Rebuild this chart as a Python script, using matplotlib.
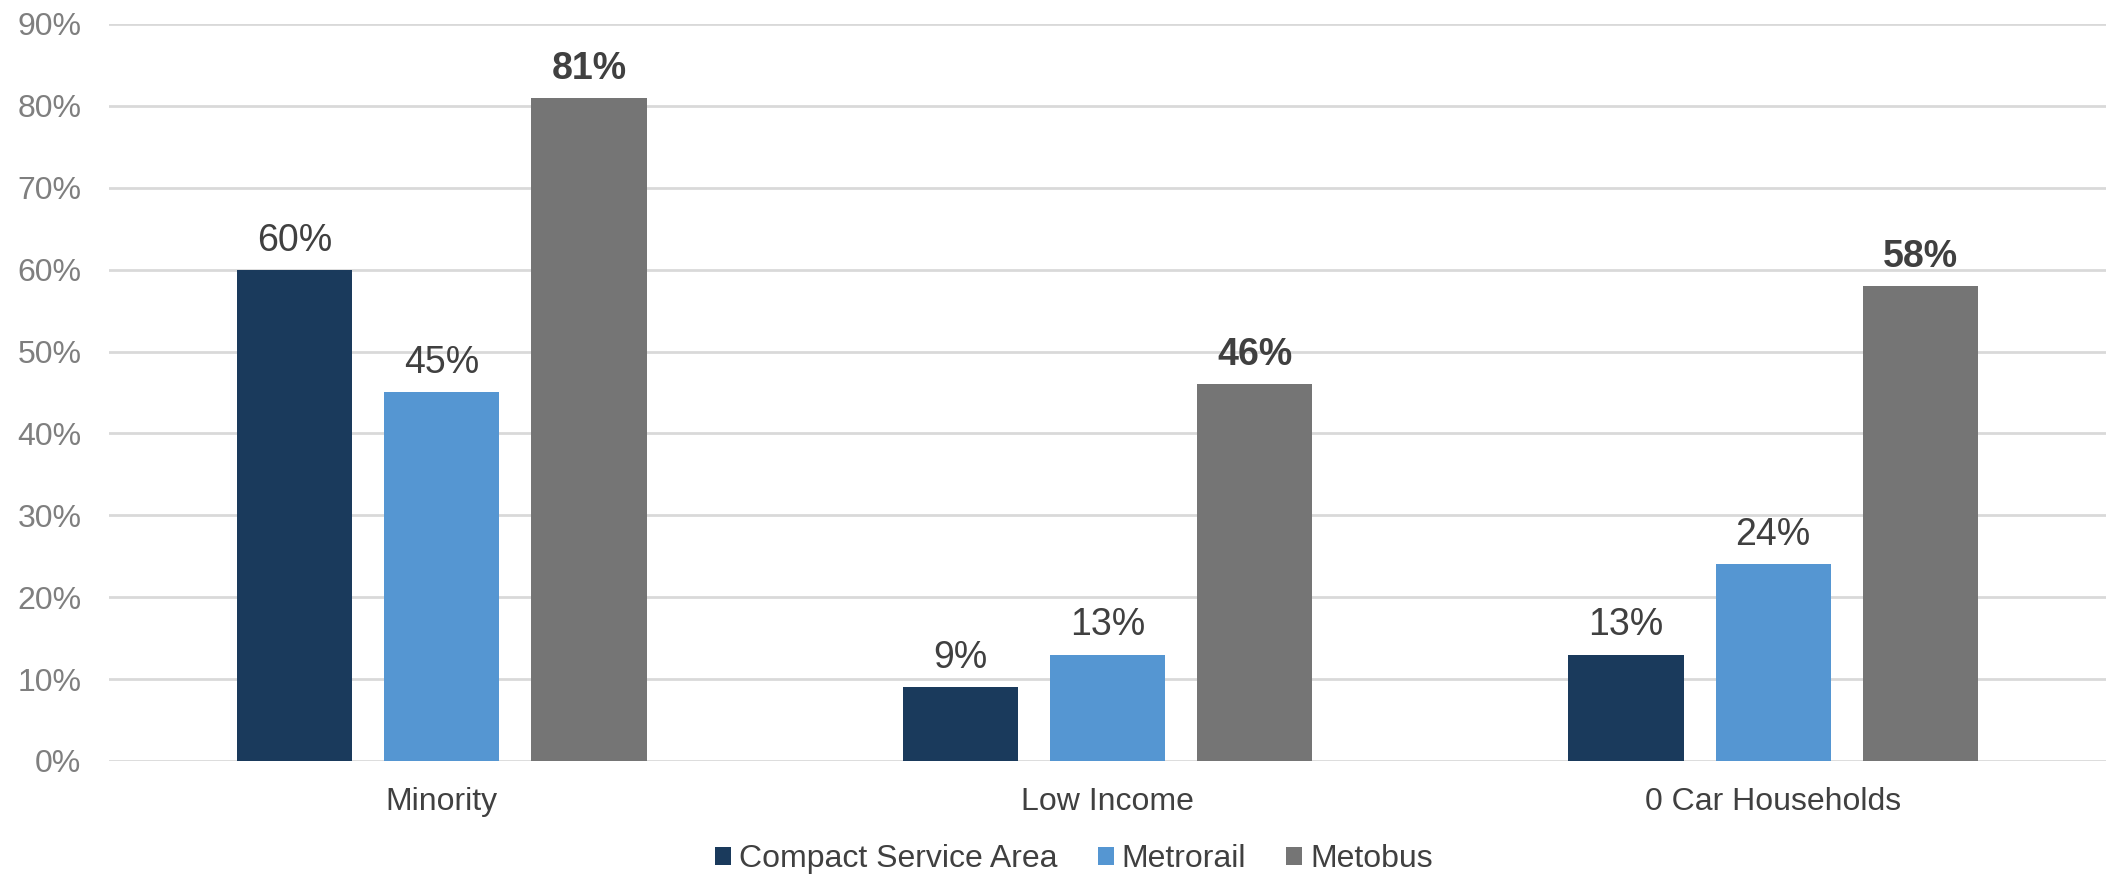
import matplotlib.pyplot as plt
import numpy as np

categories = ["Minority", "Low Income", "0 Car Households"]
series = ["Compact Service Area", "Metrorail", "Metobus"]
compact = [0.60, 0.09, 0.13]
metrorail = [0.45, 0.13, 0.24]
metobus = [0.81, 0.46, 0.58]
yticks = [0, 0.1, 0.2, 0.3, 0.4, 0.5, 0.6, 0.7, 0.8, 0.9]

colors = ["#1a3a5c", "#5596d2", "#757575"]
text_col = "#404040"

plt.rcParams['font.family'] = ['Liberation Sans', 'DejaVu Sans']

fig = plt.figure(figsize=(21.06, 8.75), dpi=100)
ax = fig.add_axes([0.0518, 0.1303, 0.9482, 0.8423])

x = np.arange(len(categories))
offset = 0.221
width = 0.173

for i, (name, vals) in enumerate(zip(series, [compact, metrorail, metobus])):
    bars = ax.bar(x + (i - 1) * offset, vals, width, color=colors[i], label=name, zorder=3)
    for b, v in zip(bars, vals):
        ax.annotate(f"{v*100:.0f}%", (b.get_x() + b.get_width() / 2, v),
                    xytext=(0, 8), textcoords="offset points",
                    ha="center", va="bottom", fontsize=27, color=text_col,
                    fontweight="bold" if i == 2 else "normal")

ax.set_xlim(-0.5, 2.5)
ax.set_ylim(0, 0.9)
ax.set_yticks(yticks)
ax.set_yticklabels([f"{t*100:.0f}%" for t in yticks], fontsize=23, color="#7f7f7f")
ax.set_xticks(x)
ax.set_xticklabels(categories, fontsize=23, color=text_col)
ax.tick_params(axis="both", length=0)
ax.tick_params(axis="y", pad=20)
ax.tick_params(axis="x", pad=19)
ax.yaxis.grid(True, color="#d9d9d9", linewidth=2, zorder=0)
for s in ax.spines.values():
    s.set_visible(False)

fig.legend(loc="center", bbox_to_anchor=(0.51, 0.018), ncol=3, frameon=False,
           fontsize=23, labelcolor=text_col, handlelength=0.5, handleheight=0.5,
           handletextpad=0.25, columnspacing=1.25)

fig.savefig("out.png", dpi=100)
